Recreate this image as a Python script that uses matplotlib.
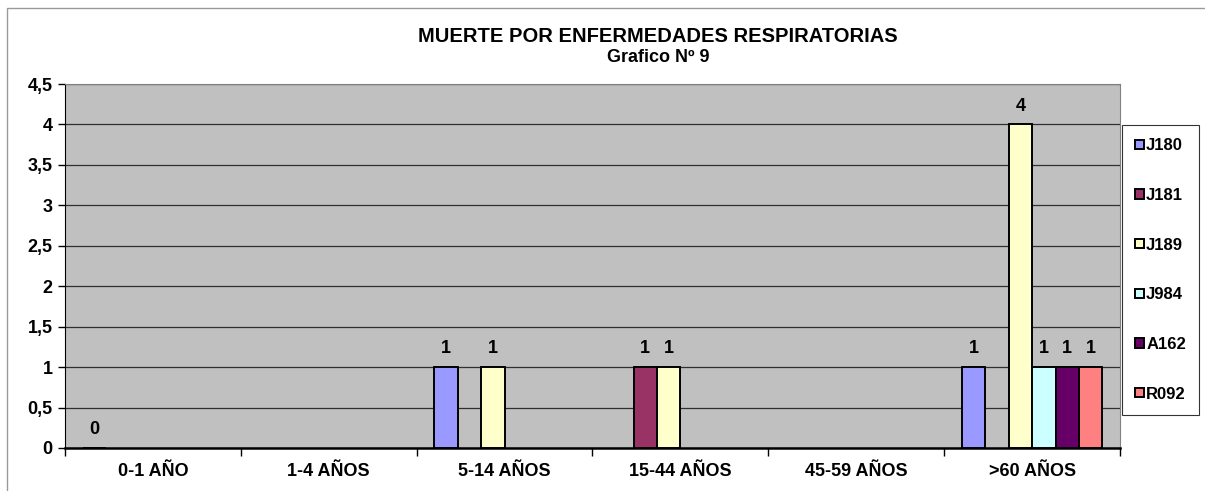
import numpy as np
import matplotlib
matplotlib.use("Agg")
import matplotlib.pyplot as plt
from matplotlib.patches import Rectangle

plt.rcParams['font.family'] = ['Liberation Sans', 'DejaVu Sans']
plt.rcParams['font.weight'] = 'bold'

# data (nan = blank cell)
categories = ["0-1 AÑO", "1-4 AÑOS", "5-14 AÑOS", "15-44 AÑOS", "45-59 AÑOS", ">60 AÑOS"]
series_names = ["J180", "J181", "J189", "J984", "A162", "R092"]
J180 = [0, np.nan, 1, np.nan, np.nan, 1]
J181 = [np.nan, np.nan, np.nan, 1, np.nan, np.nan]
J189 = [np.nan, np.nan, 1, 1, np.nan, 4]
J984 = [np.nan, np.nan, np.nan, np.nan, np.nan, 1]
A162 = [np.nan, np.nan, np.nan, np.nan, np.nan, 1]
R092 = [np.nan, np.nan, np.nan, np.nan, np.nan, 1]
colors = ["#9999FF", "#993366", "#FFFFCC", "#CCFFFF", "#660066", "#FF8080"]

W, H = 1205, 491
fig = plt.figure(figsize=(W / 100, H / 100), dpi=100)
fig.patch.set_facecolor("white")

# outer chart border (cut off at right/bottom)
fig.patches.append(Rectangle((7 / W, -0.1), 1.2, (H - 8) / H + 0.1, transform=fig.transFigure,
                             fill=False, edgecolor="#9a9a9a", lw=1))

ax = fig.add_axes([65 / W, 1 - 448 / H, (1120 - 65) / W, (448 - 84) / H])
ax.set_facecolor("#C0C0C0")

all_series = [J180, J181, J189, J984, A162, R092]
n = len(all_series)
bw = 1 / (n + 1.5)
x = np.arange(len(categories))

for i, (name, vals, c) in enumerate(zip(series_names, all_series, colors)):
    pos = x + (i - (n - 1) / 2) * bw
    vals = np.array(vals, dtype=float)
    ax.bar(pos, vals, width=bw, color=c, edgecolor="black", linewidth=1.4,
           label=name, zorder=3)
    for p, v in zip(pos, vals):
        if not np.isnan(v):
            ax.annotate(f"{int(v)}", (p, v), xytext=(0, 7), textcoords="offset points",
                        ha="center", va="bottom", fontsize=13, fontweight="bold")

ax.set_xlim(-0.5, len(categories) - 0.5)
ax.set_ylim(0, 4.5)
yt = np.arange(0, 4.51, 0.5)
ax.set_yticks(yt)
ax.set_yticklabels([f"{t:g}".replace(".", ",") for t in yt], fontsize=13, fontweight="bold")
ax.yaxis.grid(True, color="#303030", lw=0.9, zorder=1)
ax.set_axisbelow(True)

ax.set_xticks(x)
ax.set_xticklabels(categories, fontsize=13, fontweight="bold")
ax.set_xticks(np.arange(-0.5, len(categories)), minor=True)
ax.tick_params(axis="x", which="major", length=0, pad=11)
ax.tick_params(axis="x", which="minor", length=6, width=1, color="black")
ax.tick_params(axis="y", length=5, width=1, pad=4)

for s in ["top", "right"]:
    ax.spines[s].set_color("#808080")
ax.spines["left"].set_color("black")
ax.spines["bottom"].set_linewidth(1.8)

leg = fig.legend(loc="upper left", bbox_to_anchor=(1122 / W, 1 - 125 / H),
                 fontsize=12, frameon=True, fancybox=False, edgecolor="black",
                 handlelength=0.5, handleheight=0.5, handletextpad=0.15,
                 labelspacing=2.08, borderpad=0.8, borderaxespad=0)
leg.get_frame().set_linewidth(0.8)
for t in leg.get_texts():
    t.set_fontweight("bold")

fig.text(658 / W, 1 - 37 / H, "MUERTE POR ENFERMEDADES RESPIRATORIAS", ha="center", va="center",
         fontsize=14.5, fontweight="bold")
fig.text(658 / W, 1 - 57 / H, "Grafico Nº 9", ha="center", va="center",
         fontsize=13, fontweight="bold")

fig.savefig("out.png", dpi=100)
